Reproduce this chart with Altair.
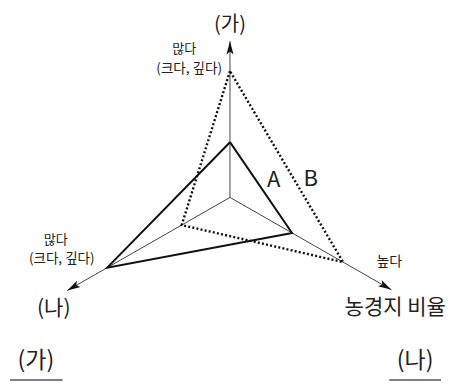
import math
import altair as alt
import pandas as pd

# --- data ---
axes_names = ["(가)", "(나)", "농경지 비율"]
axis_angles = [90, 210, 330]          # direction of each axis (degrees)
axis_lengths = [99, 118, 117]         # axis extent in value units
series_A = [35, 89, 45]
series_B = [80, 35, 82]

CX, CY, K = 231, 200, 1.6   # centre (px) and px per value unit
FONT = "Noto Sans CJK KR"


def pos(v, ang):
    a = math.radians(ang)
    return CX + K * v * math.cos(a), CY - K * v * math.sin(a)


# polygons (closed)
rows = []
for name, vals in (("A", series_A), ("B", series_B)):
    for i in range(4):
        j = i % 3
        x, y = pos(vals[j], axis_angles[j])
        rows.append({"series": name, "order": i, "x": x, "y": y})
poly = pd.DataFrame(rows)

# axis lines
arows = []
for n, ang, L in zip(axes_names, axis_angles, axis_lengths):
    x, y = pos(L, ang)
    arows.append({"axis": n, "x": CX, "y": CY, "x2": x, "y2": y,
                  "rot": (90 - ang) % 360})
axdf = pd.DataFrame(arows)

labels = pd.DataFrame([
    {"t": "(가)", "x": 231, "y": 25, "s": 20},
    {"t": "많다", "x": 185, "y": 50, "s": 13},
    {"t": "(크다, 깊다)", "x": 190, "y": 70, "s": 13.5},
    {"t": "많다", "x": 56, "y": 243, "s": 13},
    {"t": "(크다, 깊다)", "x": 62, "y": 262, "s": 13.5},
    {"t": "높다", "x": 391, "y": 265, "s": 14},
    {"t": "(나)", "x": 54, "y": 313, "s": 21},
    {"t": "농경지 비율", "x": 397, "y": 312, "s": 21},
    {"t": "A", "x": 275, "y": 182, "s": 22},
    {"t": "B", "x": 312, "y": 181, "s": 22},
    {"t": "(가)", "x": 36, "y": 366, "s": 23},
    {"t": "(나)", "x": 417, "y": 366, "s": 23},
])
underline = pd.DataFrame([
    {"x": 10, "x2": 63, "y": 385},
    {"x": 391, "x2": 443, "y": 385},
])

X = alt.X("x:Q", scale=alt.Scale(domain=[8, 446]), axis=None)
Y = alt.Y("y:Q", scale=alt.Scale(domain=[8, 381], reverse=True), axis=None)

axis_lines = alt.Chart(axdf).mark_rule(color="#444", strokeWidth=1).encode(
    x=X, y=Y, x2="x2:Q", y2="y2:Q")

arrow_path = "M0,0L0.48,1.8L0,1.4L-0.48,1.8Z"
arrows = alt.Chart(axdf).mark_point(
    shape=arrow_path, filled=True, color="#111", size=220, opacity=1,
    strokeWidth=0
).encode(
    x=alt.X("x2:Q", scale=alt.Scale(domain=[8, 446]), axis=None),
    y=alt.Y("y2:Q", scale=alt.Scale(domain=[8, 381], reverse=True), axis=None),
    angle=alt.Angle("rot:Q", scale=None),
)

lineA = alt.Chart(poly[poly.series == "A"]).mark_line(
    color="#111", strokeWidth=2).encode(x=X, y=Y, order="order:Q")
lineB = alt.Chart(poly[poly.series == "B"]).mark_line(
    color="#111", strokeWidth=2.4, strokeDash=[2, 2.2]).encode(
    x=X, y=Y, order="order:Q")

text = alt.Chart(labels).mark_text(font=FONT, color="#222").encode(
    x=X, y=Y, text="t:N", size=alt.Size("s:Q", scale=None))

ul = alt.Chart(underline).mark_rule(color="#555", strokeWidth=1.5).encode(
    x=X, x2="x2:Q", y=Y)

chart = alt.layer(axis_lines, lineA, lineB, arrows, text, ul).properties(
    width=438, height=373,
    autosize=alt.AutoSizeParams(type="fit", contains="padding"),
    padding=0,
).configure_view(stroke=None)

chart.save("out.html", embed_options={"renderer": "svg", "actions": False})
